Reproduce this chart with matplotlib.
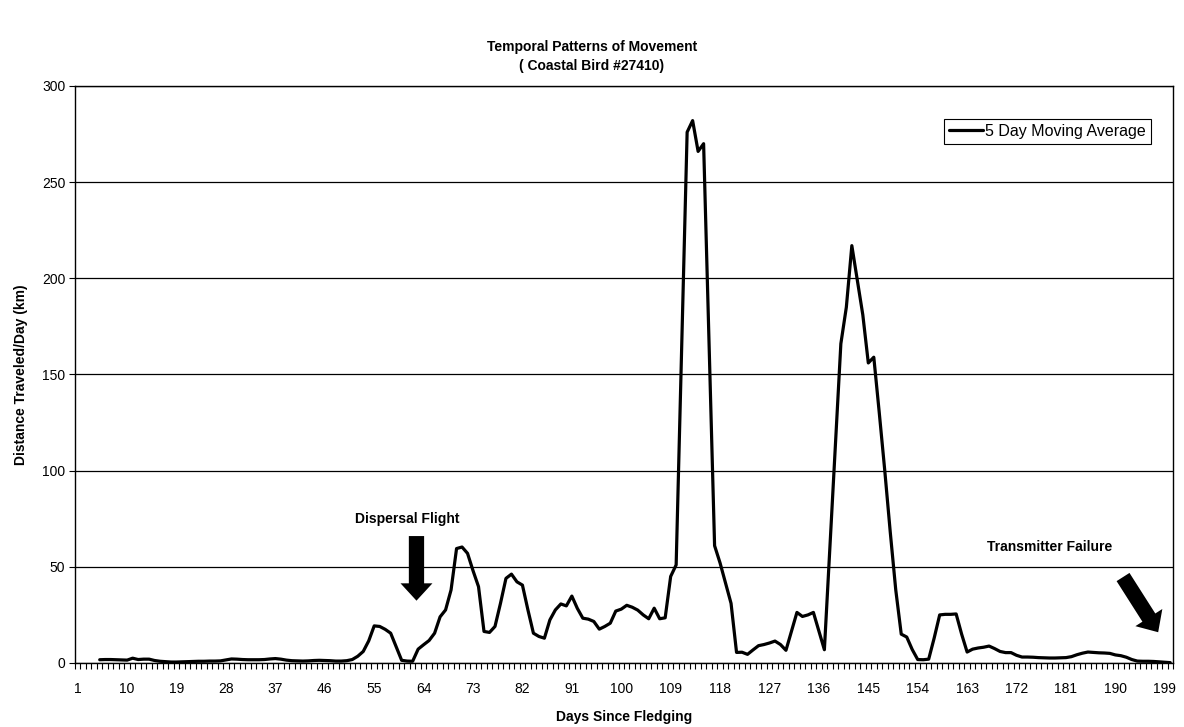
import numpy as np
import matplotlib
matplotlib.use("Agg")
import matplotlib.pyplot as plt

plt.rcParams["font.family"] = ["Liberation Sans", "DejaVu Sans"]
plt.rcParams["font.size"] = 10

# category axis: days since fledging
days = np.arange(1, 201)
tick_days = days[::9]
first_day = 5  # first day with a full 5-day window

# 5 day moving average of distance traveled per day (km), days 5..200
moving_avg = [
    1.7, 1.8, 1.8, 1.7, 1.6, 1.5, 2.5, 1.8, 2.0, 2.0,
    1.3, 0.9, 0.7, 0.5, 0.5, 0.6, 0.7, 0.8, 0.9, 0.9,
    1.0, 1.0, 1.1, 1.6, 2.1, 2.0, 1.8, 1.7, 1.7, 1.7,
    1.8, 2.1, 2.3, 2.0, 1.5, 1.2, 1.1, 1.0, 1.1, 1.3,
    1.4, 1.3, 1.2, 1.0, 1.0, 1.2, 1.8, 3.5, 6.0, 11.5,
    19.3, 19.0, 17.5, 15.5, 8.5, 1.4, 1.0, 0.9, 7.2, 9.5,
    11.7, 15.5, 24.0, 27.6, 38.0, 59.5, 60.3, 57.0, 48.0, 39.7,
    16.4, 15.9, 19.0, 31.0, 44.0, 46.2, 42.2, 40.5, 27.6, 15.5,
    13.8, 12.9, 22.4, 27.6, 30.7, 29.7, 34.8, 28.4, 23.3, 22.8,
    21.6, 17.6, 19.0, 20.7, 27.0, 28.0, 30.0, 29.0, 27.5, 25.0,
    23.0, 28.5, 23.0, 23.5, 45.0, 51.0, 163.0, 276.0, 282.0, 266.0,
    270.0, 165.0, 61.0, 52.0, 41.5, 31.0, 5.5, 5.6, 4.5, 6.8,
    9.0, 9.6, 10.4, 11.4, 9.6, 6.6, 16.5, 26.3, 24.2, 25.0,
    26.3, 16.5, 6.9, 60.0, 113.0, 166.0, 185.0, 217.0, 199.0, 181.0,
    156.0, 159.0, 130.0, 100.0, 68.0, 38.0, 15.0, 13.5, 7.0, 1.8,
    1.7, 2.0, 13.0, 25.0, 25.3, 25.3, 25.5, 15.0, 5.7, 7.2,
    7.8, 8.2, 8.8, 7.5, 6.0, 5.4, 5.4, 4.0, 3.1, 3.1,
    3.0, 2.8, 2.7, 2.6, 2.6, 2.7, 2.8, 3.3, 4.3, 5.1,
    5.7, 5.5, 5.3, 5.2, 5.0, 4.2, 3.8, 3.0, 1.8, 1.0,
    0.9, 0.9, 0.8, 0.6, 0.4, 0.2,
]
avg_days = np.arange(first_day, first_day + len(moving_avg))

fig = plt.figure(figsize=(11.84, 7.27), dpi=100)
ax = fig.add_axes([75 / 1184, 1 - 663 / 727, 1098 / 1184, 577 / 727])

ax.plot(avg_days, moving_avg, color="black", lw=2.3,
        solid_joinstyle="round", solid_capstyle="round",
        label="5 Day Moving Average")

ax.set_xlim(0.5, 200.5)
ax.set_ylim(0, 300)
ax.set_yticks(np.arange(0, 301, 50))
ax.yaxis.grid(True, color="black", lw=0.9)
ax.set_axisbelow(True)

ax.set_xticks(tick_days)
ax.set_xticks(np.arange(0.5, 201, 1), minor=True)
ax.tick_params(axis="x", which="major", length=0, pad=13.5)
ax.tick_params(axis="x", which="minor", length=4, width=0.8, direction="out")
ax.tick_params(axis="y", length=4, width=0.8, direction="out", pad=3)
for s in ax.spines.values():
    s.set_color("black")
    s.set_linewidth(1.0)

ax.set_xlabel("Days Since Fledging", fontweight="bold", labelpad=10)
ax.set_ylabel("Distance Traveled/Day (km)", fontweight="bold", labelpad=10)
fig.text(0.5, 1 - 47 / 727, "Temporal Patterns of Movement",
         ha="center", va="center", fontweight="bold")
fig.text(0.5, 1 - 66 / 727, "( Coastal Bird #27410)",
         ha="center", va="center", fontweight="bold")

# event arrows
arrow_style = "simple,head_length=1.25,head_width=2.3,tail_width=1.1"
ax.annotate("", xy=(62.7, 32.4), xytext=(62.7, 66),
            arrowprops=dict(arrowstyle=arrow_style, mutation_scale=10,
                            fc="black", ec="none", shrinkA=0, shrinkB=0))
ax.text(61.0, 74.7, "Dispersal Flight", ha="center", va="center",
        fontweight="bold")
ax.annotate("", xy=(197.8, 16.0), xytext=(191.4, 44.7),
            arrowprops=dict(arrowstyle=arrow_style, mutation_scale=10,
                            fc="black", ec="none", shrinkA=0, shrinkB=0))
ax.text(178.1, 60.5, "Transmitter Failure", ha="center", va="center",
        fontweight="bold")

leg = ax.legend(loc="upper right", bbox_to_anchor=(0.9797, 0.9428),
                frameon=True, fancybox=False, framealpha=1,
                edgecolor="black", borderpad=0.3, handlelength=2.1,
                handletextpad=0.15, borderaxespad=0, fontsize=11.5)
leg.get_frame().set_linewidth(0.8)

fig.savefig("out.png", dpi=100)
